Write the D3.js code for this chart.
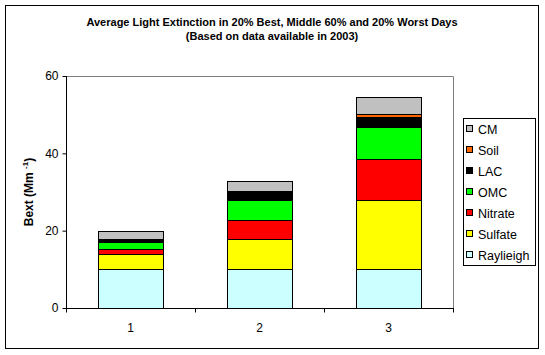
<!DOCTYPE html>
<html><head><meta charset="utf-8">
<script src="https://cdn.jsdelivr.net/npm/d3@7"></script>
<style>body{margin:0;background:#fff}svg{display:block}text{font-family:"Liberation Sans",Arial,sans-serif}</style>
</head><body>
<svg id="c" width="545" height="355"></svg>
<script>
const categories = ["1","2","3"];
const seriesNames = ["Raylieigh","Sulfate","Nitrate","OMC","LAC","Soil","CM"];
const raylieigh = [10.0, 10.0, 10.0];
const sulfate   = [4.0, 7.8, 17.9];
const nitrate   = [1.2, 4.9, 10.6];
const omc       = [1.8, 5.3, 8.4];
const lac       = [0.6, 2.1, 2.6];
const soil      = [0.25, 0.1, 0.6];
const cm        = [1.95, 2.7, 4.4];
const colors    = ["#CCFFFF","#FFFF00","#FF0000","#00FF00","#000000","#FF6600","#C0C0C0"];
const yTicks    = [0,20,40,60];

const seriesVals = [raylieigh,sulfate,nitrate,omc,lac,soil,cm];
const rows = categories.map((c,i)=>{const r={cat:c};seriesNames.forEach((s,j)=>r[s]=seriesVals[j][i]);return r;});
const stack = d3.stack().keys(seriesNames)(rows);

const svg = d3.select("#c");
svg.append("rect").attr("x",5.5).attr("y",5.5).attr("width",533).attr("height",343)
  .attr("fill","#fff").attr("stroke","#000").attr("stroke-width",1);

const L=66,R=453,T=76,B=308;
const x = d3.scaleBand().domain(categories).range([L,R]).paddingInner(0.5).paddingOuter(0.25);
const y = d3.scaleLinear().domain([0,60]).range([B,T]);

// plot frame top/right gray
svg.append("path").attr("d",`M${L},${T+0.5}H${R+0.5}V${B}`).attr("fill","none").attr("stroke","#808080");

svg.append("g").selectAll("g").data(stack).join("g").attr("fill",(d,i)=>colors[i])
 .selectAll("rect").data(d=>d).join("rect")
 .attr("x",d=>Math.round(x(d.data.cat))+0.5)
 .attr("y",d=>Math.round(y(d[1]))+0.5)
 .attr("width",Math.round(x.bandwidth()))
 .attr("height",d=>Math.max(0,Math.round(y(d[0]))-Math.round(y(d[1]))))
 .attr("stroke","#000").attr("stroke-width",1);

// y axis
const ya = svg.append("g").attr("transform",`translate(${L+0.5},0)`)
 .call(d3.axisLeft(y).tickValues(yTicks).tickSize(4).tickPadding(4).tickFormat(d3.format("d")));
ya.select(".domain").attr("stroke","#000").attr("d",`M0,${T}V${B+0.5}`);
ya.selectAll("text").attr("font-size",12).attr("fill","#000");
ya.selectAll("line").attr("stroke","#000");

// x axis
const xa = svg.append("g").attr("transform",`translate(0,${B+0.5})`);
xa.append("line").attr("x1",L).attr("x2",R+1).attr("stroke","#000");
const step = x.step();
const bounds = [0,1,2,3].map(i=>L + i*step);
xa.selectAll("line.t").data(bounds).join("line").attr("class","t")
 .attr("x1",d=>Math.round(d)+0.5).attr("x2",d=>Math.round(d)+0.5).attr("y1",0).attr("y2",4).attr("stroke","#000");
xa.selectAll("text").data(categories).join("text")
 .attr("x",d=>x(d)+x.bandwidth()/2).attr("y",23).attr("text-anchor","middle")
 .attr("font-size",12).attr("fill","#000").text(d=>d);

// title
const title = svg.append("text").attr("x",272).attr("text-anchor","middle").attr("font-size",11).attr("font-weight","bold");
title.append("tspan").attr("x",272).attr("y",26).text("Average Light Extinction in 20% Best, Middle 60% and 20% Worst Days");
title.append("tspan").attr("x",272).attr("y",40).text("(Based on data available in 2003)");

// y label
const yl = svg.append("text").attr("transform",`translate(33,${(T+B)/2}) rotate(-90)`)
 .attr("text-anchor","middle").attr("font-size",12).attr("font-weight","bold");
yl.append("tspan").text("Bext (Mm ");
yl.append("tspan").attr("font-size",8).attr("dy",-5).text("-1");
yl.append("tspan").attr("dy",5).text(")");

// legend
const lg = svg.append("g");
lg.append("rect").attr("x",463.5).attr("y",118.5).attr("width",72).attr("height",147).attr("fill","#fff").attr("stroke","#000");
const legOrder = seriesNames.map((s,i)=>({s,c:colors[i]})).reverse();
const li = lg.selectAll("g").data(legOrder).join("g").attr("transform",(d,i)=>`translate(0,${129+i*21})`);
li.append("rect").attr("x",466.5).attr("y",-3.5).attr("width",6).attr("height",6).attr("fill",d=>d.c).attr("stroke","#000");
li.append("text").attr("x",478).attr("y",4.5).attr("font-size",12.5).attr("fill","#000").text(d=>d.s);
</script>
</body></html>
